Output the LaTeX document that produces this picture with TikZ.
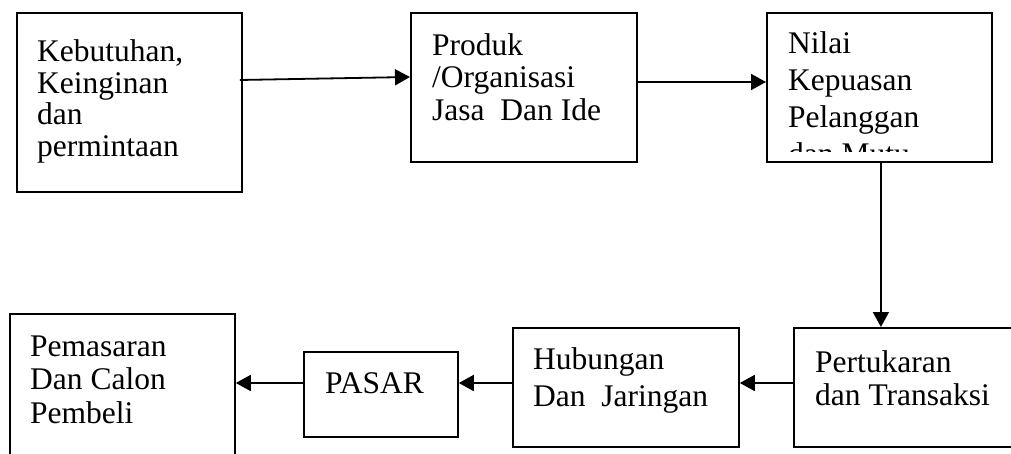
\documentclass[tikz,border=0pt]{standalone}
\usepackage{fontspec}
\setmainfont{Liberation Serif}
\usetikzlibrary{arrows.meta}
\tikzset{
  box/.style={draw, line width=1.8pt, inner sep=0pt, anchor=north west, minimum width=#1},
  txt/.style={anchor=base west, inner sep=0pt, font=\fontsize{31.5}{36}\selectfont},
  arr/.style={line width=1.8pt, -{Triangle[length=15pt,width=16pt]}}
}
\begin{document}
\begin{tikzpicture}[x=1pt,y=-1pt]
\useasboundingbox (0,0) rectangle (1011,454);
\clip (0,0) rectangle (1011,454);
% boxes
\node[box=225pt, minimum height=179pt] (b1) at (16,12) {};
\node[box=226pt, minimum height=149pt] (b2) at (410,12) {};
\node[box=225pt, minimum height=149pt] (b3) at (766,12) {};
\node[box=225pt, minimum height=119pt] (b4) at (793,327) {};
\node[box=226pt, minimum height=119pt] (b5) at (512,327) {};
\node[box=154pt, minimum height=85pt] (b6) at (303,351) {};
\node[box=225pt, minimum height=179pt] (b7) at (9,313) {};
% texts
\node[txt] (t1a) at (37,62) {Kebutuhan,};
\node[txt] (t1b) at (37,94) {Keinginan};
\node[txt] (t1c) at (37,125) {dan};
\node[txt] (t1d) at (37,157) {permintaan};
\node[txt] (t2a) at (432,56) {Produk};
\node[txt] (t2b) at (432,88) {/Organisasi};
\node[txt] (t2c) at (432,121) {Jasa\ \ Dan Ide};
\node[txt] (t3a) at (788,54) {Nilai};
\node[txt] (t3b) at (788,91) {Kepuasan};
\node[txt] (t3c) at (788,128) {Pelanggan};
\begin{scope}
\clip (b3.north west) rectangle ([yshift=11pt]b3.south east);
\node[txt] (t3d) at (788,165) {dan Mutu};
\end{scope}
\node[txt] (t4a) at (815,372) {Pertukaran};
\node[txt] (t4b) at (815,405) {dan Transaksi};
\node[txt] (t5a) at (533,369) {Hubungan};
\node[txt] (t5b) at (533,406) {Dan\ \ Jaringan};
\node[txt] (t6) at (325,393) {PASAR};
\node[txt] (t7a) at (30,356) {Pemasaran};
\node[txt] (t7b) at (30,389) {Dan Calon};
\node[txt] (t7c) at (30,423) {Pembeli};
% connectors
\draw[arr] ([xshift=-3pt,yshift=-68pt]b1.north east) -- ([yshift=-65pt]b2.north west);
\draw[arr] ([yshift=-70pt]b2.north east) -- ([yshift=-70pt]b3.north west);
\draw[arr] ([xshift=1.5pt]b3.south) -- ([xshift=1.5pt]b3.south |- b4.north);
\coordinate (row) at ([yshift=-56pt]b4.north west);
\draw[arr] (row) -- (row -| b5.east);
\draw[arr] (b5.west |- row) -- (b6.east |- row);
\draw[arr] (b6.west |- row) -- (b7.east |- row);
\end{tikzpicture}
\end{document}
